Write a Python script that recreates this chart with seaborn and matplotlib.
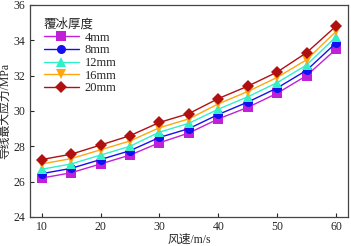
import numpy as np
import pandas as pd
import matplotlib
matplotlib.use("Agg")
import matplotlib.pyplot as plt
import seaborn as sns

sns.set_style("ticks")
plt.rcParams['font.family'] = ['Liberation Serif', 'Noto Sans CJK SC']
plt.rcParams['font.size'] = 8

wind = [10, 15, 20, 25, 30, 35, 40, 45, 50, 55, 60]
ice_4mm = [26.2, 26.5, 27.0, 27.5, 28.2, 28.75, 29.55, 30.2, 31.0, 32.0, 33.5]
ice_8mm = [26.45, 26.75, 27.25, 27.75, 28.5, 29.0, 29.8, 30.5, 31.3, 32.3, 33.85]
ice_12mm = [26.7, 27.0, 27.5, 28.0, 28.8, 29.3, 30.1, 30.8, 31.6, 32.6, 34.2]
ice_16mm = [27.0, 27.3, 27.8, 28.3, 29.05, 29.55, 30.4, 31.1, 31.9, 32.9, 34.5]
ice_20mm = [27.25, 27.55, 28.07, 28.6, 29.35, 29.85, 30.7, 31.4, 32.2, 33.3, 34.8]
labels = ['4mm', '8mm', '12mm', '16mm', '20mm']

series = [ice_4mm, ice_8mm, ice_12mm, ice_16mm, ice_20mm]
df = pd.DataFrame({
    '风速': wind * len(labels),
    '应力': sum(series, []),
    '覆冰厚度': np.repeat(labels, len(wind)),
})

colors = ['#C020D8', '#1010F0', '#30F0C8', '#FFA510', '#B01010']
markers = ['s', 'o', '^', 'v', 'D']

fig = plt.figure(figsize=(3.51, 2.46), dpi=100)
ax = fig.add_axes([0.085, 0.118, 0.906, 0.862])

sns.lineplot(data=df, x='风速', y='应力', hue='覆冰厚度', style='覆冰厚度',
             palette=colors, markers=markers, dashes=False, markersize=6.5,
             markeredgewidth=0, linewidth=1, ax=ax)

ax.set_xlim(8, 62)
ax.set_ylim(24, 36)
ax.set_xticks([10, 20, 30, 40, 50, 60])
ax.set_yticks([24, 26, 28, 30, 32, 34, 36])
ax.tick_params(direction='in', length=3, width=0.8, labelsize=8.5, pad=3)
for s in ax.spines.values():
    s.set_color('#444444')
    s.set_linewidth(0.9)
ax.set_xlabel('风速/m/s', fontsize=8.5, labelpad=0.5)
ax.set_ylabel('导线最大应力/MPa', fontsize=8.5, labelpad=2)

leg = ax.legend(title='覆冰厚度', loc='upper left', frameon=False,
                fontsize=9, title_fontsize=9, handlelength=2.8,
                labelspacing=0.05, borderaxespad=0.7, handletextpad=0.5)
leg._legend_box.align = 'left'

fig.savefig('out.png', dpi=100)
